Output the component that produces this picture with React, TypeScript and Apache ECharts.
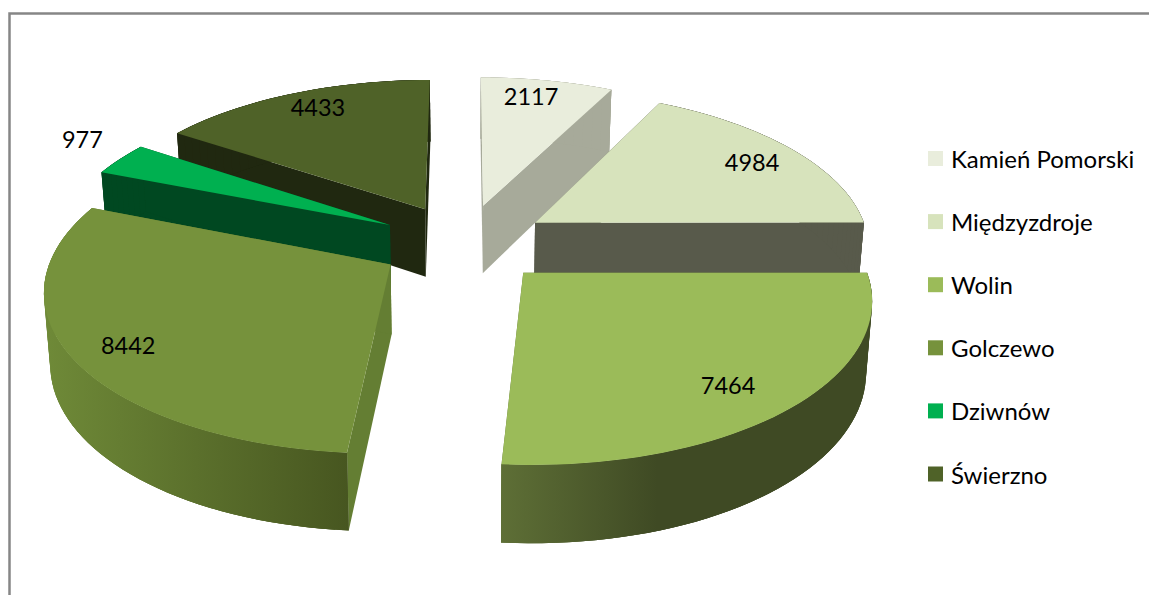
import React, { useEffect, useRef } from "react";
import * as echarts from "echarts";

// Population per commune
const communes = ["Kamień Pomorski", "Międzyzdroje", "Wolin", "Golczewo", "Dziwnów", "Świerzno"];
const population = [2117, 4984, 7464, 8442, 977, 4433];

const topColors = ["#E9EDDC", "#D7E3BC", "#9BBB59", "#76923C", "#00B050", "#4F6228"];
const wallColors = ["#A7AA9A", "#585A4B", "#5E6F36", "#6F8A38", "#004821", "#202810"];
const cutColors = ["#A7AA9A", "#585A4B", "#5E6F36", "#647E33", "#004821", "#202810"];

// Back-to-front painting order of the slices
const paintOrder = [0, 1, 5, 4, 3, 2];

// Label placement: radius as a share of the pie radius, and an angular nudge in degrees
const labelRadius = [0.853, 0.829, 0.815, 0.843, 1.2015, 0.855];
const labelNudge = [-1.8, 0.7, 2.5, -1.45, 3.2, 1.9];

// Perspective projection of the pie plane
const CX = 464;
const CY = 243;
const RX = 335;
const RY = 156;
const PERSPECTIVE = 0.14;
const EXPLODE = 0.2537;
const DEPTH = 69;
const DEPTH_PERSPECTIVE = 0.1;
const BOTTOM_NARROWING = 0.985;

type Pt = [number, number];

const projectTop = (X: number, Y: number): Pt => {
  const s = 1 / (1 + PERSPECTIVE * Y);
  return [CX + RX * X * s, CY - RY * Y * s];
};
const projectBottom = (X: number, Y: number): Pt => {
  const [x, y] = projectTop(X, Y);
  return [CX + (x - CX) * BOTTOM_NARROWING, y + DEPTH / (1 + DEPTH_PERSPECTIVE * Y)];
};

const total = population.reduce((a, b) => a + b, 0);
const rad = (d: number) => (d * Math.PI) / 180;
const startAngles = population.map((_, i) =>
  population.slice(0, i).reduce((a, b) => a + b, 0) / total * 360
);
const sweeps = population.map((v) => (v / total) * 360);

function wallFill(i: number, x0: number, x1: number) {
  if (i === 2) {
    return new echarts.graphic.LinearGradient(x0, 0, x1, 0, [
      { offset: 0, color: "#5E6F36" },
      { offset: 0.42, color: "#3F4A24" },
      { offset: 1, color: "#3F4A24" },
    ], true);
  }
  if (i === 3) {
    return new echarts.graphic.LinearGradient(x0, 0, x1, 0, [
      { offset: 0, color: "#6F8A38" },
      { offset: 1, color: "#475620" },
    ], true);
  }
  return wallColors[i];
}

function buildSlice(i: number) {
  const a0 = startAngles[i];
  const a1 = a0 + sweeps[i];
  const mid = (a0 + a1) / 2;
  const ox = EXPLODE * Math.sin(rad(mid));
  const oy = EXPLODE * Math.cos(rad(mid));
  const steps = Math.max(8, Math.ceil(sweeps[i] / 2));
  const rim: Pt[] = [];
  for (let k = 0; k <= steps; k++) {
    const a = rad(a0 + ((a1 - a0) * k) / steps);
    rim.push([ox + Math.sin(a), oy + Math.cos(a)]);
  }
  const topRim = rim.map(([X, Y]) => projectTop(X, Y));
  const botRim = rim.map(([X, Y]) => projectBottom(X, Y));
  const apexTop = projectTop(ox, oy);
  const apexBot = projectBottom(ox, oy);

  const xs = [...topRim, ...botRim].map((p) => p[0]);
  const fill = wallFill(i, Math.min(...xs), Math.max(...xs));

  const polygon = (points: Pt[], f: any) => ({
    type: "polygon",
    shape: { points },
    style: { fill: f, stroke: null },
    silent: true,
  });

  // Overlapping strips keep the curved wall's outline tangent between the two rims
  const strips = [];
  for (let k = 0; k < steps; k++) {
    const n = Math.min(k + 2, steps);
    strips.push(polygon([topRim[k], topRim[n], botRim[n], botRim[k]], fill));
  }

  const la = rad(mid + labelNudge[i]);
  const [lx, ly] = projectTop(ox + labelRadius[i] * Math.sin(la), oy + labelRadius[i] * Math.cos(la));

  return {
    type: "group",
    children: [
      polygon([apexTop, topRim[0], botRim[0], apexBot], cutColors[i]),
      polygon([apexTop, topRim[steps], botRim[steps], apexBot], cutColors[i]),
      polygon([...topRim, ...botRim.slice().reverse()], fill),
      ...strips,
      polygon([apexTop, ...topRim], topColors[i]),
      {
        type: "text",
        x: lx,
        y: ly,
        z2: 10,
        style: {
          text: String(population[i]),
          fill: "#000",
          font: "23.5px Lato",
          align: "center",
          verticalAlign: "middle",
        },
        silent: true,
      },
    ],
  };
}

export default function App() {
  const ref = useRef<HTMLDivElement>(null);

  useEffect(() => {
    const chart = echarts.init(ref.current!, null, { renderer: "svg" });
    chart.setOption({
      animation: false,
      backgroundColor: "#ffffff",
      legend: {
        orient: "vertical",
        left: 923,
        top: 140,
        data: communes,
        selectedMode: false,
        icon: "rect",
        itemWidth: 15,
        itemHeight: 15,
        itemGap: 36.1,
        textStyle: {
          fontFamily: "Lato",
          fontSize: 24,
          color: "#000",
          padding: [0, 0, 0, 3],
          height: 27,
          lineHeight: 27,
        },
      },
      graphic: [
        {
          type: "polyline",
          shape: { points: [[9.5, 595], [9.5, 13.5], [1149, 13.5]] },
          style: { stroke: "#868686", lineWidth: 2.5, fill: null },
          silent: true,
        },
      ],
      series: paintOrder.map((i, order) => ({
        type: "custom",
        name: communes[i],
        coordinateSystem: "none",
        z: 2 + order,
        silent: true,
        itemStyle: { color: topColors[i] },
        data: [{ name: communes[i], value: population[i] }],
        renderItem: () => buildSlice(i),
      })),
    });
    return () => chart.dispose();
  }, []);

  return (
    <div
      ref={ref}
      style={{ position: "fixed", left: 0, top: 0, width: 1149, height: 595 }}
    />
  );
}
